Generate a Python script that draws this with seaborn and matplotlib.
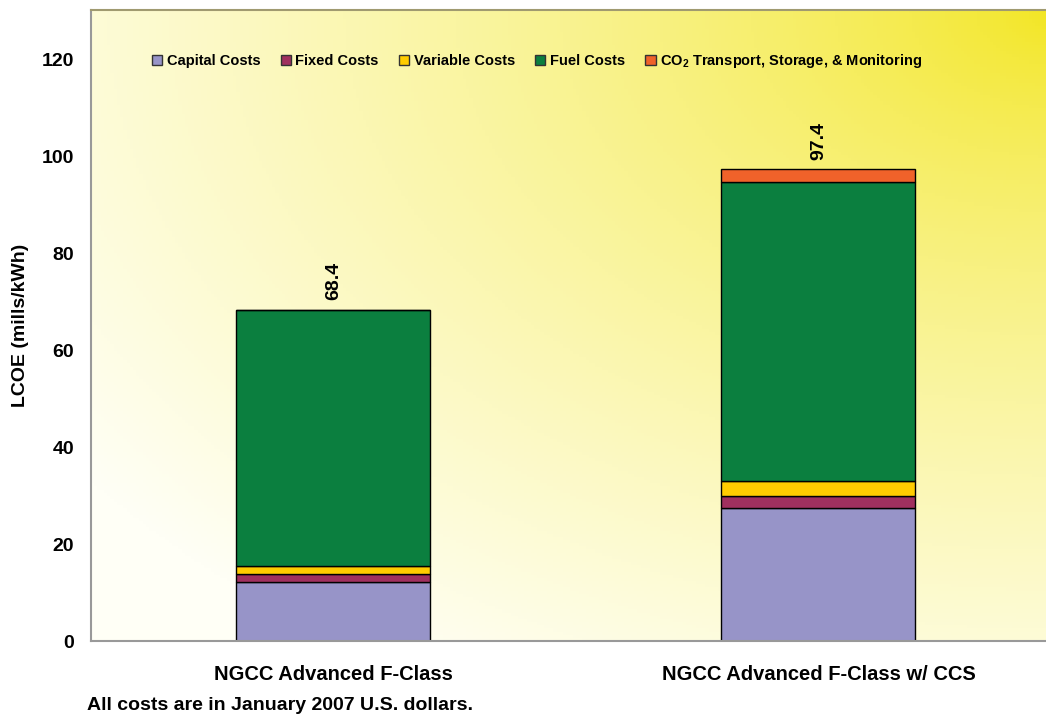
import seaborn as sns
import matplotlib.pyplot as plt
import numpy as np
from matplotlib.patches import Patch
from matplotlib.colors import to_rgb

# data
plants = ['NGCC Advanced F-Class', 'NGCC Advanced F-Class w/ CCS']
capital = [12.2, 27.5]
fixed = [1.6, 2.5]
variable = [1.6, 3.1]
fuel = [53.0, 61.7]
co2 = [0.0, 2.6]
totals = [68.4, 97.4]

series = ['Capital Costs', 'Fixed Costs', 'Variable Costs', 'Fuel Costs',
          'CO$_2$ Transport, Storage, & Monitoring']
colors = ['#9794C8', '#A0305F', '#FFCC00', '#0B7F3F', '#F0622A']

sns.set_style('white')
plt.rcParams['font.family'] = ['Liberation Sans', 'DejaVu Sans']
plt.rcParams['font.weight'] = 'bold'
plt.rcParams['text.color'] = 'black'
plt.rcParams['axes.labelcolor'] = 'black'
plt.rcParams['xtick.labelcolor'] = 'black'
plt.rcParams['ytick.labelcolor'] = 'black'
plt.rcParams['mathtext.fontset'] = 'custom'
plt.rcParams['mathtext.rm'] = 'Liberation Sans:bold'
plt.rcParams['mathtext.it'] = 'Liberation Sans:bold'
plt.rcParams['mathtext.bf'] = 'Liberation Sans:bold'
plt.rcParams['mathtext.default'] = 'rm'

fig = plt.figure(figsize=(10.46, 7.25), dpi=100)
pos = [91 / 1046, 84 / 725, 970 / 1046, 631 / 725]

# gradient background, yellow in the top right fading to white
bg = fig.add_axes(pos, zorder=0)
gx, gy = np.meshgrid(np.linspace(0, 1, 300), np.linspace(1, 0, 200))
d = np.sqrt((1 - gx) ** 2 + (1 - gy) ** 2)
t = np.clip(d / 1.25, 0, 1) ** 0.7
yellow = np.array(to_rgb('#F2E51C'))
white = np.array(to_rgb('#FFFFF6'))
img = yellow[None, None, :] * (1 - t[..., None]) + white[None, None, :] * t[..., None]
bg.imshow(img, extent=[0, 1, 0, 1], aspect='auto')
bg.axis('off')

ax = fig.add_axes(pos, zorder=1)
ax.patch.set_visible(False)

layers = [capital, fixed, variable, fuel, co2]
bottom = np.zeros(len(plants))
for vals, col in zip(layers, colors):
    sns.barplot(x=plants, y=vals, bottom=bottom, color=col, width=0.4,
                edgecolor='black', linewidth=1.0, saturation=1, ax=ax)
    bottom = bottom + np.array(vals)

for i, tot in enumerate(totals):
    ax.text(i, tot + 2, f'{tot}', rotation=90, ha='center', va='bottom',
            fontsize=14, fontweight='bold', color='black')

ax.set_xlim(-0.5, 1.5)
ax.set_ylim(0, 130.3)
ax.set_yticks(range(0, 121, 20))
ax.tick_params(axis='y', length=0, pad=12, labelsize=14)
ax.tick_params(axis='x', which='major', length=0, pad=17, labelsize=14.5)
ax.set_xticks([0.5], minor=True)
ax.tick_params(axis='x', which='minor', length=6, color='#999999', direction='out')
for lab in ax.get_xticklabels() + ax.get_yticklabels():
    lab.set_fontweight('bold')

ax.set_xlabel('')
ax.set_ylabel('LCOE (mills/kWh)', fontsize=14, fontweight='bold', color='black')
ax.yaxis.set_label_coords(-0.064, 0.5)

for s in ['left', 'bottom']:
    ax.spines[s].set_color('#999999')
    ax.spines[s].set_linewidth(1.5)
ax.spines['top'].set_color('#A09A70')
ax.spines['top'].set_linewidth(1.5)
ax.spines['right'].set_visible(False)

handles = [Patch(facecolor=c, edgecolor='#333333', linewidth=1) for c in colors]
leg = ax.legend(handles, series, loc='center', bbox_to_anchor=(0.46, 0.919),
                ncol=5, frameon=False, handlelength=0.7, handleheight=0.7,
                handletextpad=0.3, columnspacing=1.4,
                prop={'family': ['Liberation Sans Narrow', 'Liberation Sans'],
                      'weight': 'bold', 'size': 10.5})

fig.text(87 / 1046, 20 / 725, 'All costs are in January 2007 U.S. dollars.',
         fontsize=14, fontweight='bold', va='center', ha='left', color='black')

fig.savefig('out.png', dpi=100)
